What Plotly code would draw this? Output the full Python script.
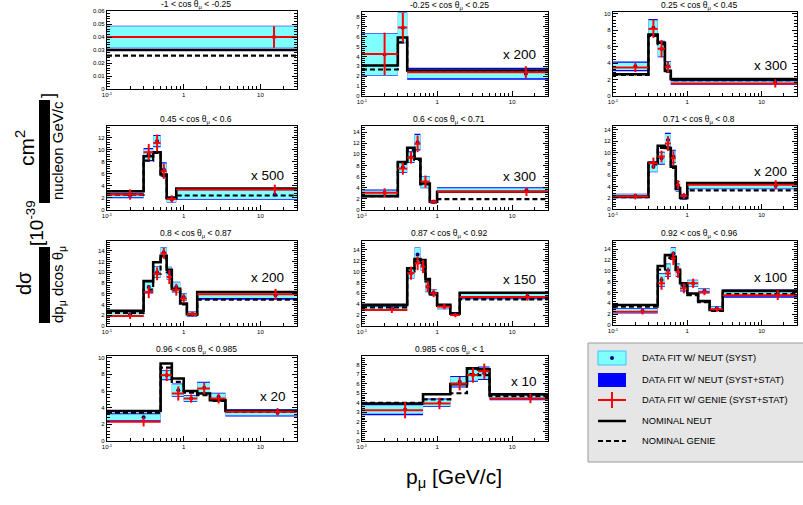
import math
import plotly.graph_objects as go

W, H = 803, 505
XMIN, XMAX = 0.1, 30.0
FONT = "Liberation Sans, Arial, Helvetica, sans-serif"

titles = [
    "-1 < cos θ<sub>μ</sub> < -0.25",
    "-0.25 < cos θ<sub>μ</sub> < 0.25",
    "0.25 < cos θ<sub>μ</sub> < 0.45",
    "0.45 < cos θ<sub>μ</sub> < 0.6",
    "0.6 < cos θ<sub>μ</sub> < 0.71",
    "0.71 < cos θ<sub>μ</sub> < 0.8",
    "0.8 < cos θ<sub>μ</sub> < 0.87",
    "0.87 < cos θ<sub>μ</sub> < 0.92",
    "0.92 < cos θ<sub>μ</sub> < 0.96",
    "0.96 < cos θ<sub>μ</sub> < 0.985",
    "0.985 < cos θ<sub>μ</sub> < 1",
]
scale_labels = ["", "x 200", "x 300", "x 500", "x 300", "x 200", "x 200", "x 150", "x 100", "x 20", "x 10"]

# momentum bin edges (GeV/c) per cos(theta) slice
p_edges = [
    [0, 30],
    [0, 0.3, 0.4, 30],
    [0, 0.3, 0.4, 0.5, 0.6, 30],
    [0, 0.3, 0.4, 0.5, 0.6, 0.8, 30],
    [0, 0.3, 0.4, 0.5, 0.6, 0.8, 1.0, 30],
    [0, 0.3, 0.4, 0.5, 0.6, 0.7, 0.8, 1.0, 30],
    [0, 0.3, 0.4, 0.5, 0.6, 0.7, 0.9, 1.1, 1.5, 30],
    [0, 0.4, 0.5, 0.6, 0.7, 0.8, 1.0, 1.5, 2.0, 30],
    [0, 0.4, 0.5, 0.6, 0.7, 0.8, 1.0, 1.4, 2.0, 3.0, 30],
    [0, 0.5, 0.7, 1.0, 1.5, 2.2, 3.5, 30],
    [0, 0.65, 1.5, 2.5, 3.5, 5.0, 30],
]
# data fit with NEUT: central value, syst error, syst+stat error (scaled units as drawn)
neut_fit = [
    [0.040],
    [4.2, 6.9, 2.25],
    [3.6, 8.3, 5.7, 3.65, 1.65],
    [2.4, 9.17, 11.4, 6.7, 1.73, 2.56],
    [3.1, 7.7, 9.5, 12.2, 5.0, 1.49, 3.57],
    [2.3, 7.5, 9.0, 12.2, 9.3, 4.0, 2.1, 4.1],
    [2.2, 7.24, 10.0, 13.7, 9.8, 7.24, 5.4, 2.2, 5.7],
    [3.25, 9.7, 13.1, 11.2, 7.2, 6.1, 3.56, 2.2, 5.5],
    [2.6, 8.3, 10.1, 13.2, 10.1, 7.05, 7.7, 6.3, 3.1, 5.8],
    [2.84, 7.9, 6.1, 5.1, 6.4, 5.3, 3.4],
    [3.3, 4.0, 6.2, 6.9, 7.1, 4.56],
]
neut_syst = [
    [0.0083],
    [2.1, 1.5, 0.45],
    [0.45, 0.9, 0.9, 0.5, 0.15],
    [0.3, 0.9, 0.85, 1.0, 0.4, 0.72],
    [0.4, 0.9, 0.9, 1.3, 1.0, 0.25, 0.35],
    [0.3, 0.9, 1.0, 1.1, 1.0, 0.85, 0.4, 0.45],
    [0.4, 1.0, 1.0, 0.9, 1.1, 0.9, 0.6, 0.4, 0.5],
    [0.35, 0.9, 1.2, 0.9, 0.9, 0.5, 0.4, 0.25, 0.4],
    [0.35, 1.1, 1.1, 1.0, 1.1, 0.7, 0.55, 0.4, 0.3, 0.5],
    [0.36, 0.5, 0.7, 0.3, 0.6, 0.4, 0.35],
    [0.45, 0.35, 0.5, 0.6, 0.6, 0.2],
]
neut_tot = [
    [0.0087],
    [2.15, 1.55, 0.6],
    [0.6, 1.05, 1.0, 0.6, 0.28],
    [0.45, 1.1, 1.0, 1.2, 0.5, 0.85],
    [0.6, 1.05, 1.05, 1.5, 1.1, 0.32, 0.5],
    [0.4, 1.0, 1.15, 1.3, 1.2, 0.95, 0.5, 0.6],
    [0.5, 1.2, 1.1, 1.0, 1.2, 1.0, 0.7, 0.5, 0.8],
    [0.45, 1.0, 1.3, 1.0, 1.0, 0.6, 0.5, 0.35, 0.6],
    [0.5, 1.25, 1.25, 1.15, 1.25, 0.85, 0.65, 0.5, 0.4, 0.75],
    [0.5, 0.6, 0.8, 0.4, 0.7, 0.5, 0.45],
    [0.6, 0.45, 0.6, 0.7, 0.7, 0.3],
]
# data fit with GENIE: central value and syst+stat error
genie_fit = [
    [0.040],
    [4.26, 6.93, 2.41],
    [3.45, 8.15, 5.74, 3.53, 1.53],
    [2.56, 9.56, 11.1, 6.4, 1.84, 3.39],
    [3.1, 7.44, 9.4, 11.9, 5.1, 1.49, 3.27],
    [2.2, 8.1, 9.3, 11.6, 9.0, 4.3, 2.35, 4.3],
    [1.84, 6.32, 9.7, 13.5, 9.1, 6.75, 5.1, 2.2, 5.9],
    [2.94, 9.7, 11.5, 10.9, 7.24, 6.0, 3.56, 2.0, 5.3],
    [2.45, 7.7, 9.5, 12.3, 9.8, 6.75, 7.7, 6.1, 2.9, 5.5],
    [2.3, 7.9, 5.7, 5.1, 6.3, 5.1, 3.5],
    [3.23, 3.93, 6.0, 6.9, 7.3, 4.46],
]
genie_err = [
    [0.0083],
    [2.15, 1.5, 0.6],
    [0.55, 1.1, 1.05, 0.65, 0.5],
    [0.85, 1.35, 1.4, 1.25, 0.6, 0.8],
    [0.8, 1.1, 1.05, 1.5, 1.1, 0.36, 0.75],
    [0.5, 1.0, 1.05, 1.3, 1.25, 0.8, 0.5, 0.8],
    [0.55, 1.15, 1.2, 1.0, 1.3, 1.1, 0.85, 0.45, 1.0],
    [0.55, 1.2, 1.25, 1.2, 1.0, 0.7, 0.5, 0.4, 0.65],
    [0.5, 1.2, 1.1, 1.25, 1.1, 0.9, 0.85, 0.6, 0.45, 0.9],
    [0.55, 0.7, 0.85, 0.5, 0.7, 0.6, 0.45],
    [0.85, 0.6, 0.7, 0.8, 0.8, 0.5],
]
# nominal predictions
nominal_neut = [
    [0.030],
    [3.08, 5.92, 2.58],
    [2.65, 7.47, 6.47, 3.05, 2.05],
    [3.11, 8.9, 9.56, 5.87, 2.01, 3.55],
    [2.5, 8.63, 11.2, 9.2, 4.76, 1.49, 3.27],
    [2.2, 8.2, 11.2, 10.8, 7.5, 3.7, 1.94, 4.6],
    [2.82, 8.34, 11.84, 13.07, 10.43, 6.93, 4.17, 2.21, 6.32],
    [3.87, 10.6, 12.3, 12.1, 8.6, 6.0, 3.87, 2.33, 6.1],
    [3.7, 10.9, 12.9, 12.6, 10.2, 7.7, 5.8, 4.4, 2.76, 6.3],
    [3.6, 9.3, 7.5, 6.0, 5.7, 4.9, 3.6],
    [3.93, 4.9, 5.96, 7.6, 7.5, 4.9],
]
nominal_genie = [
    [0.0256],
    [2.68, 5.42, 2.45],
    [2.55, 7.3, 6.3, 2.95, 1.93],
    [2.56, 8.18, 9.45, 5.6, 1.9, 2.4],
    [2.5, 8.3, 10.8, 9.0, 4.6, 1.4, 1.96],
    [2.1, 7.9, 10.8, 10.6, 7.3, 3.5, 1.9, 3.3],
    [2.45, 6.75, 9.7, 12.6, 10.0, 6.6, 4.0, 2.1, 4.9],
    [3.4, 10.0, 11.8, 11.6, 8.2, 5.8, 3.7, 2.2, 4.9],
    [3.4, 10.2, 12.4, 12.2, 9.8, 7.3, 5.5, 4.2, 2.6, 5.7],
    [3.4, 8.8, 7.1, 5.8, 5.5, 4.8, 3.5],
    [4.0, 4.35, 5.0, 7.0, 6.9, 4.7],
]

# axis styling per panel
y_max = [0.06, 8.5, 10.2, 13.9, 15.1, 14.7, 15.8, 15.6, 15.5, 10.2, 8.9]
y_dtick = [0.01, 1, 2, 2, 2, 2, 2, 2, 2, 2, 1]
# frames in page pixels: (left, right, top, bottom)
frames = [
    (107, 297, 11, 89), (362, 548, 12, 96), (613, 797, 12, 96),
    (107, 297, 126, 210), (362, 548, 126, 210), (613, 797, 126, 209),
    (107, 297, 241, 326), (362, 548, 241, 326), (613, 797, 241, 325),
    (107, 297, 356, 441), (362, 548, 356, 441),
]
scale_pos = [None, (537, 55), (788, 65), (285, 175), (537, 176), (788, 171),
             (285, 277), (537, 279), (788, 277), (287, 396), (538, 381)]

CYAN = "#80ffff"
BLUE = "#0000ff"
RED = "#ff0000"


def px(x):
    return x / W


def py(y):
    return 1 - y / H


fig = go.Figure()
annotations = []
shapes = []
layout = {}

minor_x = [0.2, 0.3, 0.4, 0.5, 0.6, 0.7, 0.8, 0.9, 2, 3, 4, 5, 6, 7, 8, 9, 20, 30]


def note(x, y, text, size, xanchor="center", angle=0):
    annotations.append(dict(x=px(x), y=py(y), xref="paper", yref="paper", text=text,
                            showarrow=False, xanchor=xanchor, yanchor="middle", textangle=angle,
                            borderpad=0,
                            font=dict(size=size, family=FONT, color="black")))


for i in range(len(titles)):
    sfx = "" if i == 0 else str(i + 1)
    xa, ya = "x" + sfx, "y" + sfx
    edges = p_edges[i]
    lo = [max(e, XMIN) for e in edges[:-1]]
    hi = edges[1:]
    ctr = [(a + b) / 2 for a, b in zip(lo, hi)]

    def rects(c, e):
        xs, ys = [], []
        for a, b, v, d in zip(lo, hi, c, e):
            xs += [a, b, b, a, a, None]
            ys += [v - d, v - d, v + d, v + d, v - d, None]
        return xs, ys

    bx, by = rects(neut_fit[i], neut_tot[i])
    fig.add_trace(go.Scatter(x=bx, y=by, xaxis=xa, yaxis=ya, mode="lines", fill="toself",
                             fillcolor=BLUE, line=dict(width=0, color=BLUE),
                             hoverinfo="skip", showlegend=False))
    cx, cy = rects(neut_fit[i], neut_syst[i])
    fig.add_trace(go.Scatter(x=cx, y=cy, xaxis=xa, yaxis=ya, mode="lines", fill="toself",
                             fillcolor=CYAN, line=dict(width=0, color=CYAN),
                             hoverinfo="skip", showlegend=False))
    # nominal NEUT (solid) and GENIE (dashed)
    sx = lo[:1] + hi
    fig.add_trace(go.Scatter(x=sx, y=nominal_neut[i] + nominal_neut[i][-1:], xaxis=xa, yaxis=ya,
                             mode="lines", line=dict(color="black", width=2.6, shape="hv"),
                             showlegend=False))
    fig.add_trace(go.Scatter(x=sx, y=nominal_genie[i] + nominal_genie[i][-1:], xaxis=xa, yaxis=ya,
                             mode="lines", line=dict(color="black", width=2.2, shape="hv", dash="5px,3px"),
                             showlegend=False))
    # NEUT fit central point
    fig.add_trace(go.Scatter(x=ctr, y=neut_fit[i], xaxis=xa, yaxis=ya, mode="markers",
                             marker=dict(color="#00007a", size=4), showlegend=False))
    # GENIE fit with error bars
    rx, ry = [], []
    for a, b, c, v, e in zip(lo, hi, ctr, genie_fit[i], genie_err[i]):
        rx += [a, b, None, c, c, None]
        ry += [v, v, None, v - e, v + e, None]
    fig.add_trace(go.Scatter(x=rx, y=ry, xaxis=xa, yaxis=ya, mode="lines",
                             line=dict(color=RED, width=2), showlegend=False))

    l, r, t, b = frames[i]
    layout["xaxis" + sfx] = dict(
        type="log", range=[math.log10(XMIN), math.log10(XMAX)], domain=[px(l), px(r)],
        anchor=ya, showline=True, linecolor="black", linewidth=1.3, mirror=True,
        ticks="inside", ticklen=5, tickwidth=1, tickcolor="black",
        tickvals=[0.1, 1, 10], ticktext=["10<sup>-1</sup>", "1", "10"],
        tickfont=dict(size=6, family=FONT, color="black"),
        minor=dict(ticks="inside", ticklen=3, tickcolor="black", tickvals=minor_x),
        showgrid=False, zeroline=False, automargin=False,
    )
    layout["yaxis" + sfx] = dict(
        range=[0, y_max[i]], domain=[py(b), py(t)], anchor=xa,
        showline=True, linecolor="black", linewidth=1.3, mirror="ticks",
        ticks="inside", ticklen=5, tickwidth=1, tickcolor="black",
        dtick=y_dtick[i], tick0=0,
        tickfont=dict(size=6, family=FONT, color="black"),
        minor=dict(ticks="inside", ticklen=3, tickcolor="black", dtick=y_dtick[i] / 5),
        showgrid=False, zeroline=False, automargin=False,
    )
    note((l + r) / 2 - 6, t - 7, titles[i], 8.5)
    if scale_labels[i]:
        sx_, sy_ = scale_pos[i]
        note(sx_, sy_, scale_labels[i], 13.5, xanchor="right")

# global axis titles
note(454, 478, "p<sub>μ</sub> [GeV/c]", 21)
ytitle = [
    ("cm<sup>2</sup>", 25, 148, 21),
    ("nucleon GeV/c", 57, 151, 15),
    ("]", 48, 96, 18),
    ("[10<sup>-39</sup>", 35, 223, 19),
    ("dσ", 24, 283, 20),
    ("dp<sub>μ</sub> dcos θ<sub>μ</sub>", 58, 285, 15),
]
for txt, x0, y0, fs in ytitle:
    note(x0, y0, txt, fs, angle=-90)
for (y0, y1) in [(100, 203), (247, 323)]:
    shapes.append(dict(type="rect", xref="paper", yref="paper", x0=px(39), x1=px(50),
                       y0=py(y1), y1=py(y0), fillcolor="black", line=dict(width=0)))

# legend box
shapes.append(dict(type="rect", xref="paper", yref="paper", x0=px(588), x1=px(812),
                   y0=py(462), y1=py(343), fillcolor="#e6e6e6", line=dict(color="#9a9a9a", width=1)))
leg_y = [358, 380, 400, 421, 441]
leg_txt = ["DATA FIT W/ NEUT (SYST)", "DATA FIT W/ NEUT (SYST+STAT)", "DATA FIT W/ GENIE (SYST+STAT)",
           "NOMINAL NEUT", "NOMINAL GENIE"]
shapes.append(dict(type="rect", xref="paper", yref="paper", x0=px(598), x1=px(626),
                   y0=py(365), y1=py(351), fillcolor=CYAN, line=dict(color="#40c0ff", width=1)))
shapes.append(dict(type="circle", xref="paper", yref="paper", x0=px(610), x1=px(614),
                   y0=py(360), y1=py(356), fillcolor="#00007a", line=dict(width=0)))
shapes.append(dict(type="rect", xref="paper", yref="paper", x0=px(598), x1=px(626),
                   y0=py(387), y1=py(373), fillcolor=BLUE, line=dict(width=0)))
shapes.append(dict(type="line", xref="paper", yref="paper", x0=px(598), x1=px(626),
                   y0=py(400), y1=py(400), line=dict(color=RED, width=2)))
shapes.append(dict(type="line", xref="paper", yref="paper", x0=px(612), x1=px(612),
                   y0=py(392), y1=py(408), line=dict(color=RED, width=2)))
shapes.append(dict(type="line", xref="paper", yref="paper", x0=px(598), x1=px(626),
                   y0=py(421), y1=py(421), line=dict(color="black", width=2.5)))
shapes.append(dict(type="line", xref="paper", yref="paper", x0=px(598), x1=px(626),
                   y0=py(441), y1=py(441), line=dict(color="black", width=2.2, dash="5px,3px")))
for yy, tt in zip(leg_y, leg_txt):
    note(641, yy, tt, 9.3, xanchor="left")

fig.update_layout(
    template="none",
    width=W, height=H, autosize=False,
    margin=dict(l=0, r=0, t=0, b=0, pad=0),
    paper_bgcolor="white", plot_bgcolor="white",
    annotations=annotations, shapes=shapes, showlegend=False,
    **layout,
)

# remove the default page margin so the 803x505 figure fills the window exactly
fig.write_html("out.html", config={"displayModeBar": False},
               post_script="document.body.style.margin='0px';document.body.style.overflow='hidden';")
